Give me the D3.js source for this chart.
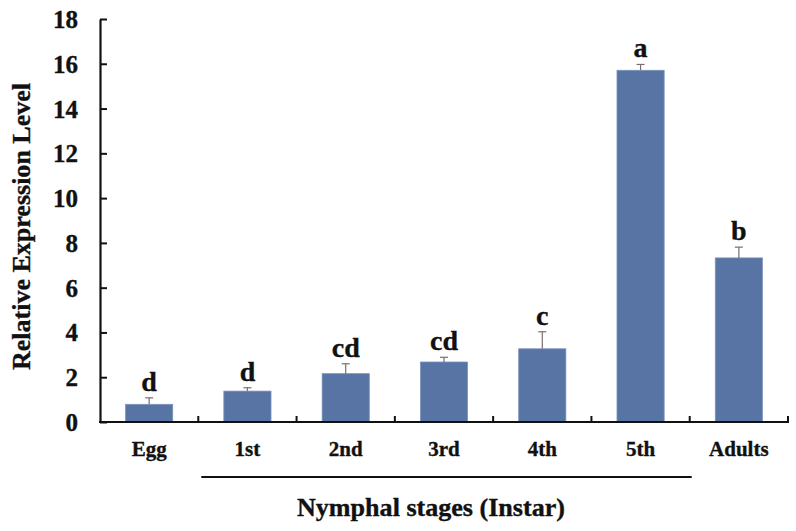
<!DOCTYPE html>
<html>
<head>
<meta charset="utf-8">
<script src="https://cdn.jsdelivr.net/npm/d3@7"></script>
<style>
  body { margin: 0; background: #fff; }
  text { font-family: "Liberation Serif", "Times New Roman", serif; font-weight: bold; fill: #111; stroke: #111; stroke-width: 0.35px; }
</style>
</head>
<body>
<svg id="chart"></svg>
<script>
// data
const categories = ["Egg", "1st", "2nd", "3rd", "4th", "5th", "Adults"];
const values = [0.79, 1.38, 2.16, 2.68, 3.27, 15.71, 7.33];
const errors = [0.29, 0.15, 0.44, 0.21, 0.76, 0.26, 0.48];
const letters = ["d", "d", "cd", "cd", "c", "a", "b"];
const yTicks = [0, 2, 4, 6, 8, 10, 12, 14, 16, 18];

const width = 796, height = 531;
const margin = {top: 19, right: 8, bottom: 109, left: 100};

const svg = d3.select("#chart")
    .attr("width", width)
    .attr("height", height);

const x = d3.scaleBand()
    .domain(categories)
    .range([margin.left, width - margin.right])
    .paddingInner(0.52)
    .paddingOuter(0.26);

// same bands without padding, for the boundary ticks
const xb = d3.scaleBand()
    .domain(categories)
    .range([margin.left, width - margin.right])
    .padding(0);

const y = d3.scaleLinear()
    .domain([0, 18])
    .range([height - margin.bottom, margin.top]);

const data = categories.map((c, i) => ({cat: c, v: values[i], e: errors[i], l: letters[i]}));

// bars
svg.append("g").selectAll("rect")
    .data(data)
    .join("rect")
    .attr("x", d => x(d.cat))
    .attr("y", d => y(d.v))
    .attr("width", x.bandwidth())
    .attr("height", d => y(0) - y(d.v))
    .attr("fill", "#5874a4")
    .attr("stroke", "#7d94bd")
    .attr("stroke-width", 0.8);

// error bars (upper only)
const eb = svg.append("g")
    .attr("stroke", "#7a6e6e")
    .attr("stroke-width", 1.2);

eb.selectAll("line.stem")
    .data(data)
    .join("line")
    .attr("class", "stem")
    .attr("x1", d => x(d.cat) + x.bandwidth() / 2)
    .attr("x2", d => x(d.cat) + x.bandwidth() / 2)
    .attr("y1", d => y(d.v))
    .attr("y2", d => y(d.v + d.e));

eb.selectAll("line.cap")
    .data(data)
    .join("line")
    .attr("class", "cap")
    .attr("x1", d => x(d.cat) + x.bandwidth() / 2 - 4)
    .attr("x2", d => x(d.cat) + x.bandwidth() / 2 + 4)
    .attr("y1", d => y(d.v + d.e))
    .attr("y2", d => y(d.v + d.e));

// significance letters
svg.append("g").selectAll("text")
    .data(data)
    .join("text")
    .attr("x", d => x(d.cat) + x.bandwidth() / 2)
    .attr("y", d => y(d.v + d.e) - 7)
    .attr("text-anchor", "middle")
    .style("font-size", "28px")
    .text(d => d.l);

// y axis
const yAxis = svg.append("g")
    .attr("transform", `translate(${margin.left},0)`)
    .call(d3.axisLeft(y).tickValues(yTicks).tickSize(-7).tickSizeOuter(0).tickPadding(22).tickFormat(d3.format("d")));
yAxis.select(".domain").attr("stroke", "#111").attr("stroke-width", 2.2);
yAxis.selectAll(".tick line").attr("stroke", "#111").attr("stroke-width", 2);
yAxis.selectAll(".tick text").style("font-size", "25px").attr("dy", "0.34em");

// x axis line and boundary ticks
const base = y(0);
svg.append("line")
    .attr("x1", margin.left - 1).attr("x2", width - margin.right + 1)
    .attr("y1", base).attr("y2", base)
    .attr("stroke", "#111").attr("stroke-width", 2.2);

const bounds = categories.slice(1).map(c => xb(c)).concat([width - margin.right]);
svg.append("g").selectAll("line")
    .data(bounds)
    .join("line")
    .attr("x1", d => d).attr("x2", d => d)
    .attr("y1", base).attr("y2", base - 6)
    .attr("stroke", "#111").attr("stroke-width", 2);

// category labels
svg.append("g").selectAll("text")
    .data(categories)
    .join("text")
    .attr("x", d => x(d) + x.bandwidth() / 2)
    .attr("y", base + 34)
    .attr("text-anchor", "middle")
    .style("font-size", "21px")
    .text(d => d);

// bracket line under nymphal stages
svg.append("line")
    .attr("x1", xb("1st") + 3)
    .attr("x2", xb("Adults") + 2)
    .attr("y1", base + 55).attr("y2", base + 55)
    .attr("stroke", "#111").attr("stroke-width", 2);

svg.append("text")
    .attr("x", 431)
    .attr("y", base + 94)
    .attr("text-anchor", "middle")
    .attr("textLength", 268)
    .attr("lengthAdjust", "spacingAndGlyphs")
    .style("font-size", "25px")
    .text("Nymphal stages (Instar)");

svg.append("text")
    .attr("transform", `translate(30,${(83 + 370) / 2}) rotate(-90)`)
    .attr("text-anchor", "middle")
    .attr("textLength", 287)
    .attr("lengthAdjust", "spacingAndGlyphs")
    .style("font-size", "25px")
    .text("Relative Expression Level");
</script>
</body>
</html>
